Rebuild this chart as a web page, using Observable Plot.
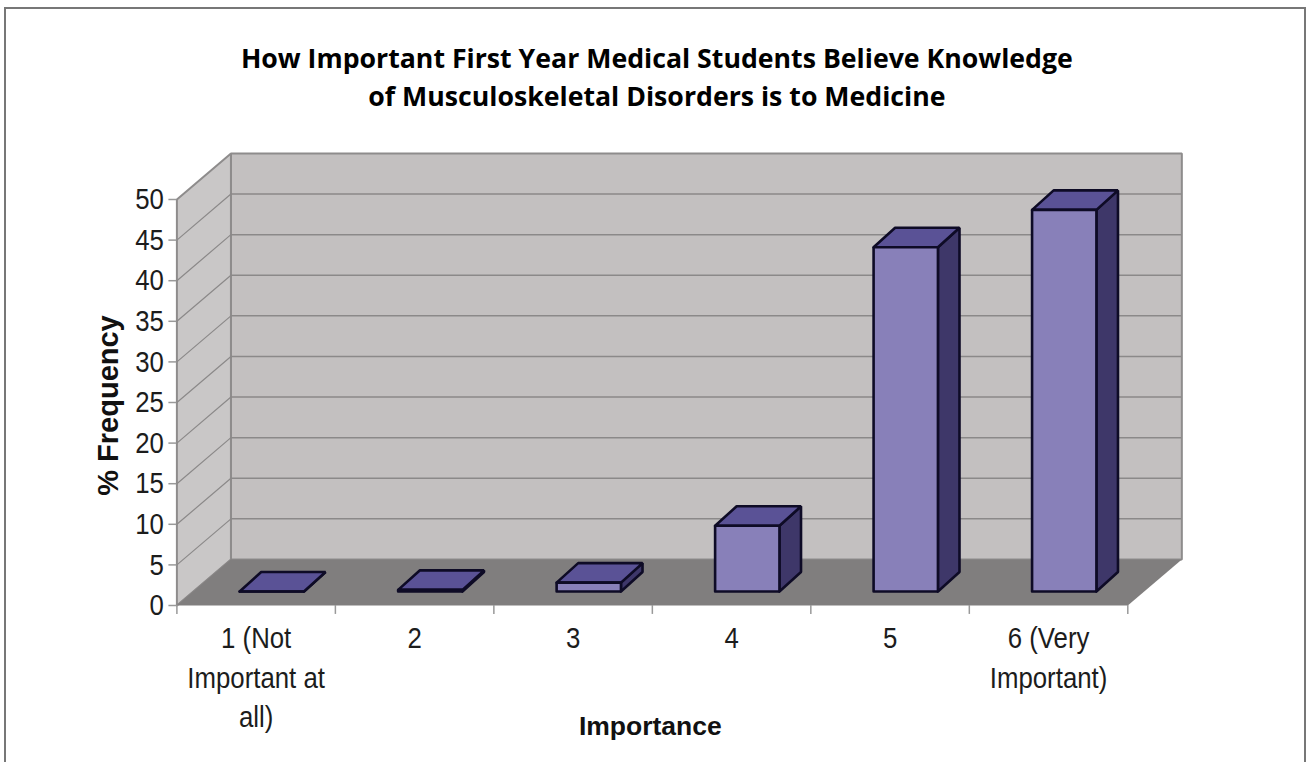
<!DOCTYPE html>
<html><head><meta charset="utf-8">
<script src="https://cdn.jsdelivr.net/npm/d3@7"></script>
<script src="https://cdn.jsdelivr.net/npm/@observablehq/plot@0.6"></script>
<style>
html,body{margin:0;padding:0;background:#fff;overflow:hidden}
#wrap{position:relative;width:1306px;height:762px}
#wrap svg{position:absolute;left:0;top:0}
#frame{position:absolute;left:4px;top:7px;width:1298px;height:760px;border:2px solid #777;box-sizing:content-box}
</style></head><body>
<div id="wrap"><div id="frame"></div></div>
<script>
const titleLines = ["How Important First Year Medical Students Believe Knowledge", "of Musculoskeletal Disorders is to Medicine"];
const categories = ["1 (Not\nImportant at\nall)", "2", "3", "4", "5", "6 (Very\nImportant)"];
const values = [0, 0.2, 1.1, 8.1, 42.4, 47.0];
const yTicks = [0, 5, 10, 15, 20, 25, 30, 35, 40, 45, 50];
const xEdges = [0, 1, 2, 3, 4, 5, 6];
const xLabel = "Importance";
const yLabel = "% Frequency";

// oblique projection, in data units
const wallDx = 0.341, wallDy = 5.67;
const barOffX = 0.099, barOffY = 1.72;
const barDepthX = 0.136, barDepthY = 2.4;
const barWidth = 0.406;

const rows = (id, pts) => [...pts, pts[0]].map(([x, y]) => ({id, x, y}));
const poly = (data, fill, stroke, strokeWidth) =>
  Plot.line(data, {x: "x", y: "y", z: "id", fill, stroke, strokeWidth, strokeLinejoin: "miter"});

const wallTop = yTicks[yTicks.length - 1], xMax = xEdges[xEdges.length - 1];
const backWall = rows("back", [[wallDx, wallDy], [xMax + wallDx, wallDy], [xMax + wallDx, wallTop + wallDy], [wallDx, wallTop + wallDy]]);
const sideWall = rows("side", [[0, 0], [wallDx, wallDy], [wallDx, wallTop + wallDy], [0, wallTop]]);
const floor = rows("floor", [[0, 0], [xMax, 0], [xMax + wallDx, wallDy], [wallDx, wallDy]]);

const fronts = [], tops = [], sides = [];
values.forEach((v, i) => {
  const x0 = i + 0.5 - barWidth / 2 + barOffX, x1 = x0 + barWidth;
  const y0 = barOffY, y1 = barOffY + v;
  fronts.push(...rows(i, [[x0, y0], [x1, y0], [x1, y1], [x0, y1]]));
  tops.push(...rows(i, [[x0, y1], [x1, y1], [x1 + barDepthX, y1 + barDepthY], [x0 + barDepthX, y1 + barDepthY]]));
  sides.push(...rows(i, [[x1, y0], [x1 + barDepthX, y0 + barDepthY], [x1 + barDepthX, y1 + barDepthY], [x1, y1]]));
});

const gridBack = yTicks.slice(1, -1);
const sideGrid = yTicks.slice(0, -1).flatMap(t => [{id: t, x: 0, y: t}, {id: t, x: wallDx, y: t + wallDy}]);

const labelFont = "'Liberation Sans',Arial,sans-serif";
const gridColor = "#8b8989", edge = "#0e0b26";

const chart = Plot.plot({
  width: 1306, height: 762,
  marginLeft: 176.4, marginRight: 178.7, marginTop: 199, marginBottom: 157,
  style: {background: "transparent", overflow: "visible"},
  x: {domain: [0, xMax], axis: null},
  y: {domain: [0, wallTop], axis: null},
  marks: [
    poly(backWall, "#c3c0c0", "#8e8c8c", 2),
    poly(sideWall, "#c9c7c7", "#8e8c8c", 2),
    Plot.ruleY(gridBack, {x1: wallDx, x2: xMax + wallDx, y: t => t + wallDy, stroke: gridColor, strokeWidth: 1.5}),
    Plot.line(sideGrid, {x: "x", y: "y", z: "id", stroke: gridColor, strokeWidth: 1.2}),
    poly(floor, "#807e7e", "none", 0),
    Plot.ruleX(xEdges, {x: d => d, y1: 0, y2: -1.1, stroke: "#999", strokeWidth: 1.5}),
    Plot.axisY({
      anchor: "left", ticks: yTicks, label: null, tickSize: 8, tickPadding: 5,
      fontSize: 30, stroke: "#999", strokeWidth: 1.5, color: "#1c1c1c", fontFamily: labelFont
    }),
    poly(sides, "#3e3769", edge, 2.6),
    poly(tops, "#5a5296", edge, 2.6),
    poly(fronts, "#8880b9", edge, 2.6),
    Plot.text(categories, {
      x: (d, i) => i + 0.5, y: 0, dy: 15, lineAnchor: "top", textAnchor: "middle",
      lineHeight: 1.31, fontSize: 30, fontFamily: labelFont, fill: "#1c1c1c"
    }),
    Plot.text([xLabel], {
      frameAnchor: "bottom", dx: -2, dy: 121, lineAnchor: "middle",
      fontSize: 26.5, fontWeight: "bold", fontFamily: labelFont, fill: "#111"
    }),
    Plot.text([yLabel], {
      frameAnchor: "left", textAnchor: "middle", dx: -68, dy: 3, rotate: -90, lineAnchor: "middle",
      fontSize: 29, fontWeight: "bold", fontFamily: labelFont, fill: "#111"
    }),
    Plot.text([titleLines.join("\n")], {
      frameAnchor: "top", dx: 4.5, dy: -158, lineAnchor: "top",
      lineHeight: 1.42, fontSize: 26.7, fontWeight: "bold", fontFamily: "'Open Sans',sans-serif", fill: "#000"
    })
  ]
});
// the reference's tick and category labels are set in a condensed face
chart.querySelectorAll('g[font-size="30"] text').forEach(t => {
  t.setAttribute("transform", (t.getAttribute("transform") || "") + " scale(0.86,1)");
});
document.getElementById("wrap").appendChild(chart);
</script>
</body></html>
